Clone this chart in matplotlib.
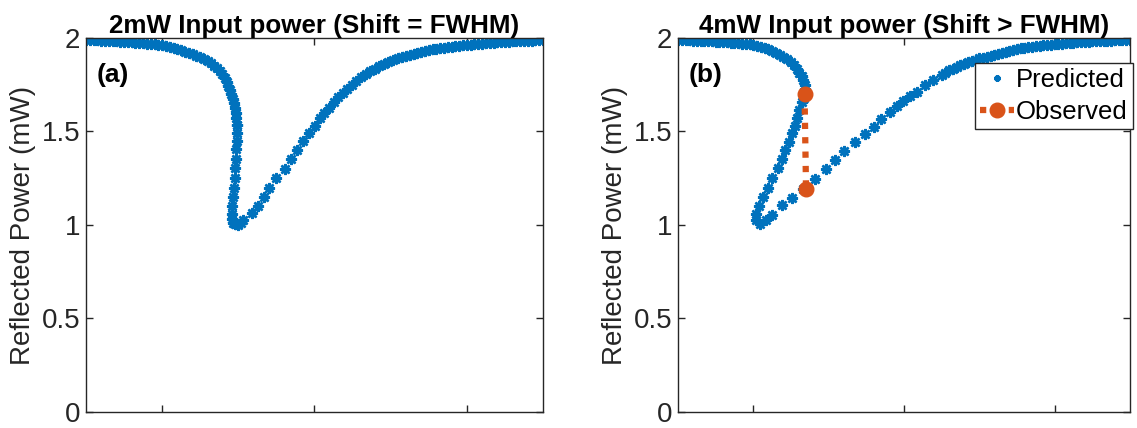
import numpy as np
import matplotlib
matplotlib.use('Agg')
import matplotlib.pyplot as plt
from matplotlib.lines import Line2D

# ---------------- 2mW input: predicted reflected power vs detuning ----------------
x_2mw = [-3.00, -2.95, -2.90, -2.85, -2.80, -2.75, -2.70, -2.65, -2.60, -2.55,
         -2.50, -2.45, -2.40, -2.35, -2.30, -2.25, -2.20, -2.15, -2.10, -2.05,
         -2.00, -1.95, -1.90, -1.85, -1.80, -1.75, -1.70, -1.65, -1.60, -1.55,
         -1.50, -1.45, -1.40, -1.36, -1.32, -1.28, -1.24, -1.21, -1.18, -1.15,
         -1.13, -1.11, -1.09, -1.075, -1.06, -1.045, -1.035, -1.025, -1.02, -1.017,
         -1.017, -1.020, -1.025, -1.031, -1.040, -1.050, -1.060, -1.070, -1.078, -1.082,
         -1.080, -1.070, -1.045, -1.010, -0.960, -0.937, -0.825, -0.742, -0.663, -0.597,
         -0.506, -0.387, -0.309, -0.230, -0.151, -0.072, 0.007, 0.070, 0.130, 0.190,
         0.250, 0.310, 0.370, 0.430, 0.490, 0.550, 0.610, 0.670, 0.730, 0.790,
         0.850, 0.910, 0.970, 1.030, 1.090, 1.150, 1.200, 1.250, 1.300, 1.350,
         1.400, 1.450, 1.500, 1.550, 1.600, 1.650, 1.700, 1.750, 1.800, 1.850,
         1.900, 1.950, 2.000, 2.050, 2.100, 2.150, 2.200, 2.250, 2.300, 2.350,
         2.400, 2.450, 2.500, 2.550, 2.600, 2.650, 2.700, 2.750, 2.800, 2.850,
         2.900, 2.950, 3.000]
y_2mw = [1.990, 1.989, 1.988, 1.987, 1.986, 1.985, 1.984, 1.983, 1.981, 1.980,
         1.979, 1.977, 1.976, 1.974, 1.973, 1.971, 1.969, 1.967, 1.965, 1.963,
         1.961, 1.958, 1.953, 1.948, 1.941, 1.934, 1.927, 1.920, 1.913, 1.905,
         1.896, 1.886, 1.875, 1.864, 1.851, 1.838, 1.822, 1.805, 1.787, 1.765,
         1.745, 1.723, 1.700, 1.675, 1.650, 1.625, 1.600, 1.572, 1.535, 1.535,
         1.492, 1.449, 1.406, 1.353, 1.305, 1.251, 1.198, 1.150, 1.100, 1.059,
         1.030, 1.012, 1.003, 1.002, 1.010, 1.027, 1.063, 1.100, 1.150, 1.198,
         1.250, 1.300, 1.353, 1.400, 1.450, 1.490, 1.530, 1.572, 1.598, 1.627,
         1.655, 1.682, 1.705, 1.728, 1.750, 1.772, 1.790, 1.807, 1.822, 1.836,
         1.849, 1.860, 1.869, 1.880, 1.890, 1.900, 1.905, 1.910, 1.916, 1.921,
         1.925, 1.930, 1.935, 1.939, 1.942, 1.945, 1.948, 1.951, 1.953, 1.955,
         1.958, 1.960, 1.962, 1.964, 1.966, 1.968, 1.970, 1.971, 1.973, 1.974,
         1.976, 1.977, 1.978, 1.979, 1.981, 1.982, 1.983, 1.984, 1.985, 1.986,
         1.987, 1.988, 1.989]

# ---------------- 4mW input: predicted (bistable) and observed jump ----------------
x_4mw = [-3.00, -2.95, -2.90, -2.85, -2.80, -2.75, -2.70, -2.65, -2.60, -2.55,
         -2.50, -2.45, -2.40, -2.35, -2.30, -2.25, -2.20, -2.15, -2.10, -2.05,
         -2.00, -1.95, -1.90, -1.85, -1.80, -1.75, -1.70, -1.65, -1.60, -1.55,
         -1.50, -1.46, -1.42, -1.39, -1.36, -1.34, -1.32, -1.31, -1.315, -1.330,
         -1.358, -1.390, -1.425, -1.450, -1.480, -1.520, -1.575, -1.624, -1.669, -1.748,
         -1.801, -1.876, -1.921, -1.965, -1.960, -1.910, -1.830, -1.750, -1.623, -1.490,
         -1.340, -1.181, -1.035, -0.916, -0.796, -0.650, -0.518, -0.398, -0.305, -0.186,
         -0.097, -0.013, 0.080, 0.169, 0.279, 0.385, 0.500, 0.550, 0.600, 0.650,
         0.700, 0.750, 0.800, 0.850, 0.900, 0.950, 1.000, 1.050, 1.100, 1.150,
         1.200, 1.250, 1.300, 1.350, 1.400, 1.450, 1.500, 1.550, 1.600, 1.650,
         1.700, 1.750, 1.800, 1.850, 1.900, 1.950, 2.000, 2.050, 2.100, 2.150,
         2.200, 2.250, 2.300, 2.350, 2.400, 2.450, 2.500, 2.550, 2.600, 2.650,
         2.700, 2.750, 2.800, 2.850, 2.900, 2.950, 3.000]
y_4mw = [1.990, 1.989, 1.988, 1.987, 1.986, 1.985, 1.984, 1.983, 1.982, 1.981,
         1.980, 1.979, 1.977, 1.976, 1.974, 1.973, 1.971, 1.969, 1.967, 1.965,
         1.963, 1.959, 1.954, 1.948, 1.940, 1.932, 1.922, 1.910, 1.898, 1.885,
         1.870, 1.854, 1.833, 1.815, 1.795, 1.775, 1.750, 1.725, 1.700, 1.680,
         1.659, 1.615, 1.570, 1.530, 1.490, 1.446, 1.401, 1.351, 1.303, 1.250,
         1.196, 1.148, 1.102, 1.059, 1.027, 1.005, 1.025, 1.055, 1.107, 1.143,
         1.190, 1.246, 1.298, 1.348, 1.397, 1.445, 1.487, 1.526, 1.567, 1.606,
         1.636, 1.665, 1.690, 1.713, 1.749, 1.775, 1.802, 1.814, 1.826, 1.836,
         1.846, 1.855, 1.863, 1.870, 1.877, 1.884, 1.890, 1.895, 1.900, 1.906,
         1.911, 1.916, 1.921, 1.926, 1.931, 1.936, 1.940, 1.944, 1.947, 1.950,
         1.953, 1.955, 1.957, 1.960, 1.962, 1.964, 1.966, 1.968, 1.970, 1.971,
         1.973, 1.975, 1.976, 1.978, 1.979, 1.980, 1.981, 1.982, 1.983, 1.984,
         1.985, 1.986, 1.987, 1.988, 1.988, 1.989, 1.990]

x_obs = [-1.32, -1.30]
y_obs = [1.70, 1.19]

titles = ['2mW Input power (Shift = FWHM)', '4mW Input power (Shift > FWHM)']
panel_tags = ['(a)', '(b)']

#---------------------------------------------------PLOT---------------------------------------------------------
blue = '#0072BD'
orange = '#D95319'
grey = '#262626'
plt.rcParams['font.family'] = ['Liberation Sans', 'DejaVu Sans']

fig = plt.figure(figsize=(11.37, 4.28), dpi=100)
ax1 = fig.add_axes([0.0756, 0.0374, 0.402, 0.874])
ax2 = fig.add_axes([0.5963, 0.0374, 0.3975, 0.874])

star = (8, 2, 0)
ax1.plot(x_2mw, y_2mw, linestyle='none', marker=star, color=blue, markersize=8, markeredgewidth=1.8)
ax2.plot(x_4mw, y_4mw, linestyle='none', marker=star, color=blue, markersize=8, markeredgewidth=1.8)
ax2.plot(x_obs, y_obs, linestyle=(0, (1, 1.3)), linewidth=4.5, color=orange,
         marker='o', markersize=10.5, zorder=3)

for ax, t, tag in zip([ax1, ax2], titles, panel_tags):
    ax.set_xlim(-3, 3)
    ax.set_ylim(0, 2)
    ax.set_xticks([-2, 0, 2])
    ax.set_xticklabels([])
    ax.set_yticks([0, 0.5, 1, 1.5, 2])
    ax.set_yticklabels(['0', '0.5', '1', '1.5', '2'])
    ax.tick_params(direction='in', length=5, width=1.0, colors=grey, labelsize=20,
                   top=True, right=True, pad=4)
    for s in ax.spines.values():
        s.set_color(grey)
        s.set_linewidth(1.0)
    ax.set_ylabel('Reflected Power (mW)', fontsize=20, color=grey, labelpad=4)
    ax.set_title(t, fontsize=18.7, fontweight='bold', pad=2)
    ax.text(-2.86, 1.80, tag, fontsize=19, fontweight='bold', va='center', ha='left')

# legend only on the 4mW panel
handles = [Line2D([], [], linestyle='none', marker=star, color=blue, markersize=4.5, markeredgewidth=1.6),
           Line2D([], [], linestyle=(0, (1, 1.3)), linewidth=4.5, color=orange, marker='o', markersize=10.5)]
leg = ax2.legend(handles, ['Predicted', 'Observed'], loc='upper right', bbox_to_anchor=(1.007, 0.933),
                 fontsize=18.5, frameon=True, fancybox=False, handlelength=1.3, handletextpad=0.1,
                 borderpad=0.2, labelspacing=0.3, borderaxespad=0)
leg.get_frame().set_edgecolor(grey)
leg.get_frame().set_linewidth(1.0)
leg.get_frame().set_alpha(1)

fig.savefig('out.png', dpi=100)
